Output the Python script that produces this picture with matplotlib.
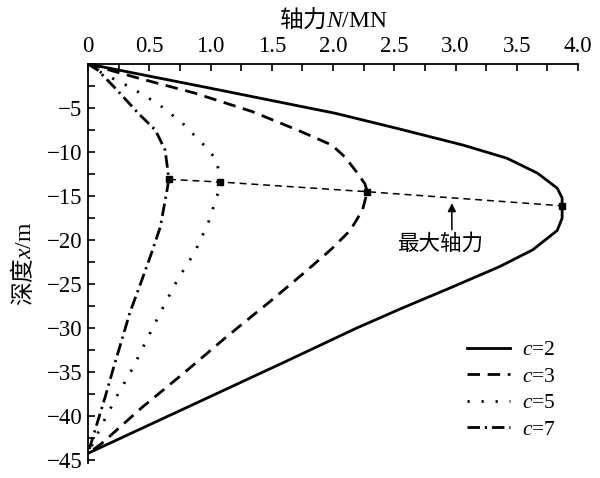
import matplotlib
matplotlib.use('Agg')
import matplotlib.pyplot as plt
from matplotlib.ticker import MultipleLocator

plt.rcParams['font.family'] = ['Liberation Serif', 'Noto Sans CJK SC']
plt.rcParams['mathtext.fontset'] = 'custom'
plt.rcParams['mathtext.rm'] = 'Liberation Serif'
plt.rcParams['mathtext.it'] = 'Liberation Serif:italic'
plt.rcParams['mathtext.sf'] = 'Noto Sans CJK SC'
plt.rcParams['axes.unicode_minus'] = True
plt.rcParams['lines.scale_dashes'] = False

# axial force N (MN) against depth x (m)
n_c2 = [0, 1.0, 2.02, 2.52, 3.06, 3.42, 3.67, 3.83, 3.87, 3.87, 3.87, 3.83, 3.63, 3.36, 2.96, 2.55, 2.19, 1.61, 0.79, 0]
d_c2 = [0, -2.75, -5.6, -7.3, -9.2, -10.7, -12.4, -14.1, -15.2, -16.1, -17.5, -18.9, -21.1, -23.0, -25.4, -27.8, -30.0, -33.8, -39.1, -44.2]

n_c3 = [0, 0.41, 0.87, 1.34, 1.71, 1.99, 2.10, 2.20, 2.26, 2.28, 2.24, 2.14, 1.98, 1.79, 1.50, 1.12, 0.79, 0.44, 0.11, 0]
d_c3 = [0, -1.6, -3.3, -5.4, -7.5, -9.2, -10.6, -12.4, -13.6, -14.5, -16.6, -18.9, -21.1, -23.4, -26.8, -31.1, -35.0, -39.0, -43.1, -44.2]

n_c5 = [0, 0.11, 0.34, 0.57, 0.77, 0.96, 1.05, 1.08, 1.06, 0.98, 0.87, 0.73, 0.61, 0.49, 0.37, 0.24, 0.12, 0]
d_c5 = [0, -1.0, -2.6, -4.5, -6.7, -9.4, -10.9, -13.4, -14.7, -18.1, -21.4, -24.5, -27.7, -31.0, -34.4, -37.6, -40.8, -44.2]

n_c7 = [0, 0.08, 0.24, 0.41, 0.55, 0.63, 0.66, 0.64, 0.59, 0.52, 0.44, 0.34, 0.30, 0.21, 0.14, 0.05, 0]
d_c7 = [0, -0.7, -3.0, -5.6, -7.5, -9.8, -13.1, -14.7, -18.5, -21.4, -24.5, -28.3, -30.2, -34.4, -37.8, -41.9, -44.2]

# location of the maximum axial force for each c
peak_n = [0.66, 1.08, 2.28, 3.87]
peak_d = [-13.1, -13.4, -14.5, -16.1]

xticks = [0, 0.5, 1.0, 1.5, 2.0, 2.5, 3.0, 3.5, 4.0]
xtick_labels = ['0', '0.5', '1.0', '1.5', '2.0', '2.5', '3.0', '3.5', '4.0']
yticks = [-45, -40, -35, -30, -25, -20, -15, -10, -5]

fig = plt.figure(figsize=(6, 4.78), dpi=100)
ax = fig.add_axes([0.1467, 0.0314, 0.8167, 0.8347])

lw = 2.0
ax.plot(n_c2, d_c2, color='black', lw=lw, label='$c$=2')
ax.plot(n_c3, d_c3, color='black', lw=lw, dashes=(9, 5.5), label='$c$=3')
ax.plot(n_c5, d_c5, color='black', lw=lw, dashes=(1.6, 8.5), label='$c$=5')
ax.plot(n_c7, d_c7, color='black', lw=lw, dashes=(9, 3.5, 1.6, 3.5), label='$c$=7')

ax.plot(peak_n, peak_d, color='black', lw=1.1, dashes=(5, 3.5),
        marker='s', markersize=5)

ax.annotate('', xy=(2.97, -15.8), xytext=(2.97, -18.8),
            arrowprops=dict(arrowstyle='-|>', color='black', lw=1.1,
                            mutation_scale=12, shrinkA=0, shrinkB=0))
ax.text(2.87, -20.5, '最大轴力', fontsize=15.5, ha='center', va='center')

ax.set_xlim(0, 4)
ax.set_ylim(-45.3, 0)
ax.xaxis.tick_top()
ax.xaxis.set_label_position('top')
ax.set_xticks(xticks)
ax.set_xticklabels(xtick_labels)
ax.xaxis.set_minor_locator(MultipleLocator(0.25))
ax.set_yticks(yticks)
ax.yaxis.set_minor_locator(MultipleLocator(2.5))

ax.spines['right'].set_visible(False)
ax.spines['bottom'].set_visible(False)
for s in ('left', 'top'):
    ax.spines[s].set_linewidth(1.3)
ax.tick_params(which='both', direction='in', length=5, width=1.2,
               labelsize=16.5, top=True, bottom=False, right=False)
ax.tick_params(axis='x', pad=5)
ax.tick_params(axis='y', pad=4)

ax.set_xlabel(r'$\mathsf{轴力}N\mathrm{/MN}$', fontsize=17, labelpad=7)
ax.set_ylabel(r'$\mathsf{深度}x\mathrm{/m}$', fontsize=17, labelpad=8)

ax.legend(loc='lower right', bbox_to_anchor=(0.994, 0.01), frameon=False,
          fontsize=15.5, handlelength=2.0, handletextpad=0.55, labelspacing=0.3)

fig.savefig('out.png', dpi=100)
